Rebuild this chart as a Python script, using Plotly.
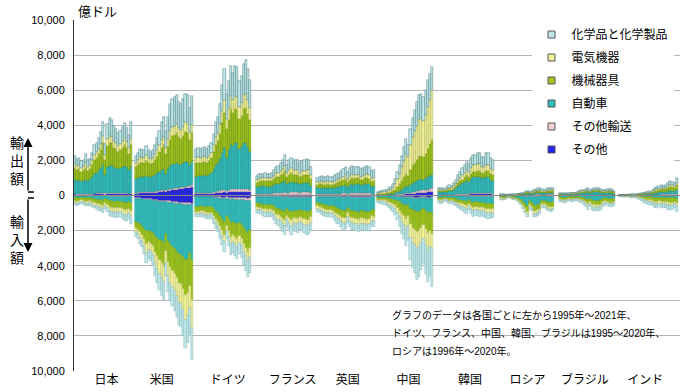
import plotly.graph_objects as go

# ---------------- data (億ドル) ----------------
countries = ["日本", "米国", "ドイツ", "フランス", "英国", "中国", "韓国", "ロシア", "ブラジル", "インド"]
start_years = [1995, 1995, 1995, 1995, 1995, 1995, 1995, 1996, 1995, 1995]
categories = ["その他", "その他輸送", "自動車", "機械器具", "電気機器", "化学品と化学製品"]
country_label_pos = [14.5, 40, 70.5, 100.5, 126, 154, 182.5, 209, 235.5, 263.5]

# Japan 1995-2021
jp_ex_other = [60,55,55,50,50,55,50,50,55,60,60,65,70,75,55,70,75,75,70,65,60,60,65,70,65,60,70]
jp_ex_trans = [40,35,35,35,35,40,35,40,45,50,55,60,70,80,60,70,70,70,60,60,55,55,60,60,55,50,55]
jp_ex_auto = [820,760,800,720,760,820,760,850,950,1100,1180,1300,1450,1650,1050,1500,1550,1620,1500,1450,1380,1450,1500,1560,1480,1320,1500]
jp_ex_mach = [650,610,620,560,580,680,560,570,700,820,860,930,1030,1200,850,1180,1300,1200,1100,1060,1000,1020,1100,1180,1080,960,1230]
jp_ex_elec = [250,240,240,220,240,280,230,240,270,300,310,320,330,370,280,380,400,390,360,350,330,340,360,380,350,320,380]
jp_ex_chem = [430,400,400,365,385,475,365,350,430,520,535,575,650,825,655,850,1005,945,860,815,725,725,815,900,820,740,965]
jp_im_other = [25,25,25,20,20,25,25,25,25,30,30,30,30,35,30,30,35,35,35,35,35,35,35,40,40,40,40]
jp_im_trans = [15,15,15,15,15,15,15,15,15,20,20,20,20,25,20,20,25,25,25,25,25,25,25,25,25,25,25]
jp_im_auto = [120,130,120,100,110,130,130,130,150,170,180,200,210,230,170,210,250,280,290,300,280,300,320,340,340,300,350]
jp_im_mach = [160,180,170,140,150,180,170,165,180,210,230,250,260,290,220,280,340,360,360,380,350,360,390,420,420,390,480]
jp_im_elec = [100,110,100,90,100,120,120,110,120,140,150,160,170,180,150,180,220,240,240,250,230,240,260,280,280,260,300]
jp_im_chem = [130,140,130,115,125,150,140,135,150,170,190,200,210,240,190,230,280,310,300,310,280,290,320,345,345,335,405]

# United States 1995-2021
us_ex_other = [100,110,120,125,130,140,140,145,150,160,170,190,210,230,220,250,280,300,320,340,350,360,380,400,420,430,470]
us_ex_trans = [50,50,55,55,55,60,60,60,60,65,70,75,80,85,75,85,90,95,95,100,100,100,105,110,110,95,105]
us_ex_auto = [790,830,900,880,880,920,860,850,880,950,1020,1100,1180,1200,950,1150,1300,1380,1400,1420,1350,1300,1350,1420,1400,1200,1330]
us_ex_mach = [660,730,800,790,780,850,780,730,750,850,950,1100,1250,1350,1100,1300,1500,1600,1620,1680,1550,1480,1580,1700,1650,1430,1650]
us_ex_elec = [250,280,310,300,300,340,300,280,290,320,360,400,440,460,380,440,490,510,520,530,500,490,510,530,520,450,470]
us_ex_chem = [400,450,465,450,455,490,460,435,470,555,680,835,1040,1175,975,1275,1540,1615,1645,1680,1500,1470,1575,1640,1600,1395,1625]
us_im_other = [150,160,170,180,190,210,210,220,230,250,270,290,300,310,290,320,340,360,370,390,400,410,420,440,450,450,460]
us_im_trans = [40,40,45,45,50,55,55,55,60,65,70,75,80,85,70,80,85,90,90,95,95,95,100,100,100,90,100]
us_im_auto = [1310,1360,1435,1525,1660,1785,1735,1805,1860,1985,2060,2185,2220,2305,1840,2200,2325,2500,2590,2715,2855,2895,2980,3110,3050,2760,3140]
us_im_mach = [350,380,450,490,590,730,650,680,750,930,1050,1150,1250,1310,970,1170,1310,1350,1430,1490,1630,1650,1810,2030,1930,1850,2250]
us_im_elec = [240,260,300,330,400,500,440,460,510,640,720,790,860,900,670,800,900,930,980,1020,1120,1130,1240,1400,1330,1270,1580]
us_im_chem = [260,300,350,380,460,570,510,530,590,730,830,910,990,1040,760,930,1040,1070,1140,1190,1300,1320,1450,1620,1540,1480,1870]

# Germany 1995-2020
de_ex_other = [80,80,80,80,85,85,90,95,110,130,140,150,170,190,160,180,200,200,210,210,200,200,210,220,210,200]
de_ex_trans = [60,60,60,60,60,60,65,70,80,90,100,110,130,150,120,140,160,160,160,160,150,150,160,170,160,140]
de_ex_auto = [930,950,950,980,1000,950,1000,1100,1300,1500,1600,1800,2100,2350,1850,2250,2550,2450,2600,2600,2300,2450,2600,2600,2400,2150]
de_ex_mach = [770,780,760,780,790,760,800,850,980,1180,1260,1450,1750,2000,1650,1750,2000,1900,1950,1900,1700,1750,1950,2000,1900,1800]
de_ex_elec = [290,300,290,300,300,300,310,330,380,450,480,550,650,750,600,680,760,720,760,750,680,700,780,800,760,720]
de_ex_chem = [520,530,510,500,515,495,535,555,650,850,920,1140,1500,1760,1420,1500,1730,1570,1720,1680,1470,1550,1800,1910,1770,1590]
de_im_other = [60,60,60,60,60,65,65,65,75,85,95,110,120,130,110,120,140,130,140,150,140,150,160,170,180,170]
de_im_trans = [40,40,40,40,40,45,45,45,50,60,65,75,85,95,80,90,100,95,100,105,100,105,115,125,130,120]
de_im_auto = [540,540,510,530,550,560,560,560,660,780,850,990,1120,1270,1000,1150,1350,1280,1350,1420,1320,1400,1560,1700,1850,1700]
de_im_mach = [280,280,270,280,290,300,300,300,360,430,480,560,650,750,570,670,790,760,800,830,770,820,910,990,1060,1010]
de_im_elec = [150,150,145,150,160,165,165,165,190,220,240,280,320,360,290,330,390,370,390,410,380,400,450,490,530,500]
de_im_chem = [180,180,175,190,200,215,215,215,265,325,370,435,505,595,450,540,630,615,670,685,640,675,755,825,900,900]

# France 1995-2020
fr_ex_other = [30,30,30,30,30,30,30,30,35,40,40,45,50,55,45,50,55,55,55,55,50,50,55,55,55,45]
fr_ex_trans = [60,65,70,70,70,70,70,75,85,95,100,110,120,140,110,120,130,125,130,130,120,125,130,140,140,100]
fr_ex_auto = [380,400,420,420,420,410,410,430,480,540,540,560,600,640,480,560,580,520,520,520,470,500,500,520,500,400]
fr_ex_mach = [260,280,290,290,290,290,290,300,330,380,390,430,480,540,400,460,500,460,470,470,420,440,460,480,470,380]
fr_ex_elec = [150,160,170,170,170,170,170,175,195,220,230,250,280,310,240,270,290,270,280,280,250,265,270,285,280,220]
fr_ex_chem = [250,265,270,270,280,280,280,290,325,375,400,455,520,615,475,540,595,570,595,595,540,570,585,620,605,505]
fr_im_other = [30,30,30,35,35,35,35,35,40,45,50,55,60,65,55,60,65,60,60,65,60,60,65,65,65,60]
fr_im_trans = [30,30,30,35,35,35,35,35,40,45,50,55,60,65,55,60,65,60,60,65,60,60,65,65,65,60]
fr_im_auto = [390,410,410,450,470,490,470,490,540,630,660,710,780,830,680,740,820,740,760,770,700,740,780,820,800,720]
fr_im_mach = [210,220,220,240,250,260,250,260,290,340,360,390,430,460,370,410,460,420,430,440,400,420,440,460,450,410]
fr_im_elec = [140,150,150,160,170,180,170,180,200,240,250,270,300,320,260,290,320,290,300,310,280,290,310,320,310,290]
fr_im_chem = [200,210,210,230,240,250,240,250,290,350,380,420,470,510,380,440,520,480,490,500,450,480,490,520,510,460]

# United Kingdom 1995-2021
uk_ex_other = [30,30,30,30,30,30,30,30,35,35,40,40,45,50,40,45,50,50,50,50,45,45,50,50,50,40,40]
uk_ex_trans = [40,40,45,45,45,45,45,45,50,55,60,65,70,75,60,70,80,75,80,80,75,75,80,85,85,65,65]
uk_ex_auto = [330,350,360,340,340,350,330,330,360,390,400,420,450,480,400,470,520,490,510,510,460,480,510,530,500,400,420]
uk_ex_mach = [200,210,220,210,210,220,210,210,230,250,260,280,300,320,270,310,340,320,330,330,300,310,330,340,330,280,290]
uk_ex_elec = [150,160,170,160,160,170,160,160,170,180,190,200,210,220,190,210,230,220,220,220,200,210,220,230,220,190,200]
uk_ex_chem = [250,260,275,265,265,285,275,275,305,340,350,395,425,455,390,445,480,445,460,460,420,430,460,465,465,425,435]
uk_im_other = [30,30,35,35,35,40,40,40,45,50,50,55,60,60,50,55,60,60,60,65,60,60,60,65,60,55,55]
uk_im_trans = [30,30,35,35,35,40,40,40,45,50,50,55,60,60,50,55,60,60,60,65,60,60,60,65,60,55,55]
uk_im_auto = [370,400,440,460,480,500,500,520,580,640,660,720,780,760,600,720,780,790,810,850,790,790,810,830,810,700,720]
uk_im_mach = [190,210,230,240,250,260,260,270,300,330,340,370,400,390,320,370,400,400,410,430,400,400,410,420,410,360,370]
uk_im_elec = [140,150,165,170,180,185,185,195,215,240,250,270,290,280,230,270,290,290,300,310,290,290,300,305,300,260,270]
uk_im_chem = [160,180,195,210,220,225,225,235,265,290,300,330,360,350,300,330,360,350,360,380,350,350,360,365,360,320,330]

# China 1995-2020
cn_ex_other = [10,10,10,10,10,15,15,20,25,35,40,50,55,60,60,80,100,110,120,140,150,150,160,180,200,220]
cn_ex_trans = [10,10,12,12,12,15,15,20,25,35,40,50,55,60,60,80,100,110,120,130,140,140,150,160,180,190]
cn_ex_auto = [20,25,30,30,35,45,50,65,100,140,180,240,330,400,350,450,510,550,580,620,630,620,660,720,740,760]
cn_ex_mach = [40,45,55,60,65,90,100,130,190,280,370,480,600,720,650,850,1000,1100,1200,1300,1320,1300,1400,1600,1800,1990]
cn_ex_elec = [50,60,75,80,90,130,150,200,310,450,600,780,950,1150,1050,1400,1600,1800,1950,2100,2150,2050,2200,2400,2500,2850]
cn_ex_chem = [70,80,98,108,118,155,170,215,300,410,520,650,760,810,730,940,1090,1230,1330,1410,1410,1340,1430,1540,1480,1290]
cn_im_other = [15,15,15,15,20,25,25,30,35,45,55,65,75,85,75,100,110,115,120,120,110,100,110,120,115,110]
cn_im_trans = [10,10,10,10,10,15,15,20,20,25,30,35,40,45,40,50,55,60,60,60,55,50,55,60,55,50]
cn_im_auto = [90,95,90,100,110,140,150,180,200,250,310,380,420,480,420,600,680,720,780,760,690,640,740,820,780,860]
cn_im_mach = [130,140,135,150,165,200,220,260,300,370,460,560,630,720,650,900,1000,1050,1120,1080,980,900,1020,1120,1060,1150]
cn_im_elec = [85,90,90,100,110,140,160,190,220,280,360,450,510,590,540,760,850,900,980,940,860,790,900,990,940,800]
cn_im_chem = [120,130,130,145,165,200,230,270,335,430,565,710,825,980,875,1290,1455,1555,1740,1690,1555,1420,1625,1790,1700,2230]

# Korea 1995-2020
kr_ex_other = [15,15,15,15,18,20,20,25,30,35,40,45,50,55,50,60,65,65,65,65,60,60,65,65,60,55]
kr_ex_trans = [15,15,15,15,18,20,20,25,30,35,40,45,50,55,50,60,65,65,65,65,60,60,65,65,60,55]
kr_ex_auto = [170,170,160,150,190,230,200,260,340,450,520,600,680,750,680,820,900,900,940,940,860,850,900,900,780,740]
kr_ex_mach = [70,70,65,60,75,90,80,100,130,170,200,220,250,280,270,300,320,320,330,330,310,310,340,350,310,310]
kr_ex_elec = [60,60,60,55,70,90,80,110,140,190,220,250,280,310,290,340,360,360,370,370,340,340,370,370,320,310]
kr_ex_chem = [80,90,85,85,109,150,120,170,210,290,340,390,430,480,460,540,590,590,630,630,580,580,660,670,590,580]
kr_im_other = [15,15,15,10,12,15,15,15,20,20,25,25,30,30,25,30,35,35,35,35,35,35,40,40,40,40]
kr_im_trans = [15,15,15,10,12,15,15,15,20,20,25,25,30,30,25,30,35,35,35,35,35,35,40,40,40,40]
kr_im_auto = [120,125,115,80,100,130,120,140,160,190,210,240,270,290,230,290,330,320,320,340,330,350,380,400,380,380]
kr_im_mach = [110,115,105,75,95,125,110,125,145,170,190,210,230,250,200,250,290,270,270,280,270,280,300,310,300,300]
kr_im_elec = [70,75,70,50,60,80,75,85,100,115,130,150,170,180,150,180,200,190,190,200,190,200,220,230,220,220]
kr_im_chem = [120,125,110,75,101,135,115,140,155,185,200,230,250,270,220,270,310,300,300,310,290,300,320,330,320,320]

# Russia 1996-2020
ru_ex_other = [5,5,5,5,5,5,5,5,8,10,12,15,20,15,20,25,30,30,30,25,25,30,35,35,30]
ru_ex_trans = [5,5,5,5,5,5,5,5,8,10,12,15,20,15,20,25,30,30,30,25,25,30,35,35,30]
ru_ex_auto = [15,15,13,12,15,15,17,20,24,28,35,45,65,40,55,75,85,90,95,75,70,85,95,95,90]
ru_ex_mach = [15,15,14,12,15,17,18,20,25,30,38,50,70,50,60,80,90,95,100,85,80,95,105,105,100]
ru_ex_elec = [5,5,5,5,5,6,6,8,10,12,15,20,25,20,25,30,35,35,40,35,30,35,40,40,40]
ru_ex_chem = [15,15,13,11,15,17,19,22,25,30,38,55,80,60,70,95,110,120,125,105,100,125,140,140,130]
ru_im_other = [10,10,8,6,6,8,10,12,15,20,25,30,40,25,30,40,40,40,35,25,25,30,30,30,30]
ru_im_trans = [10,10,8,6,6,8,10,12,15,20,25,30,40,25,30,40,40,40,35,25,25,30,30,30,30]
ru_im_auto = [80,90,70,45,50,70,85,110,150,210,300,420,520,270,350,480,500,450,400,240,240,300,330,350,320]
ru_im_mach = [70,80,65,45,48,65,75,90,120,150,200,260,320,210,240,320,330,310,290,200,200,240,250,260,250]
ru_im_elec = [40,45,35,25,25,35,40,50,60,75,100,130,160,110,120,160,170,160,150,110,110,130,130,140,140]
ru_im_chem = [40,45,34,23,25,34,40,46,60,75,100,130,170,110,130,160,170,150,140,100,100,120,130,140,130]

# Brazil 1995-2020
br_ex_other = [5,5,6,6,6,7,7,6,8,10,12,13,15,16,12,15,18,17,17,15,13,13,15,15,14,11]
br_ex_trans = [10,10,12,12,15,20,20,15,15,20,25,25,25,30,25,25,30,30,30,25,25,25,25,25,25,20]
br_ex_auto = [35,40,45,45,40,45,45,45,60,80,100,110,120,130,90,120,140,130,140,120,100,100,120,120,110,80]
br_ex_mach = [30,32,38,38,35,40,40,38,45,55,70,80,90,100,75,95,110,100,100,90,80,78,90,92,85,70]
br_ex_elec = [10,11,13,13,12,14,14,13,15,20,25,27,30,32,25,30,35,33,33,30,27,25,28,30,28,22]
br_ex_chem = [30,32,36,36,32,34,34,33,37,45,58,65,80,92,73,95,117,110,110,100,85,79,92,98,88,77]
br_im_other = [10,10,12,12,10,10,10,8,8,10,12,15,18,22,18,22,25,25,25,24,18,15,17,19,19,17]
br_im_trans = [10,10,12,12,10,10,10,8,8,10,12,15,18,22,18,22,25,25,25,24,18,15,17,19,19,17]
br_im_auto = [90,100,110,100,80,85,85,70,70,80,100,130,170,220,160,220,250,240,240,230,170,140,150,170,170,150]
br_im_mach = [110,120,130,125,100,105,110,90,90,105,125,155,190,230,180,230,260,250,260,240,190,160,175,200,200,180]
br_im_elec = [50,55,60,58,48,50,52,44,44,50,60,75,95,115,90,115,130,125,130,125,95,80,85,95,95,90]
br_im_chem = [80,85,96,93,82,90,93,80,80,95,111,130,159,191,154,191,210,215,220,207,159,140,156,177,177,166]

# India 1995-2021
in_ex_other = [2,2,3,3,3,3,3,4,5,6,8,10,12,14,12,18,22,25,28,30,30,32,38,42,40,38,50]
in_ex_trans = [2,2,3,3,3,3,3,4,5,6,8,10,12,14,12,18,22,25,28,30,30,32,38,42,40,38,50]
in_ex_auto = [8,9,10,10,11,12,12,14,18,24,30,38,45,52,48,75,100,115,130,145,140,150,180,200,195,170,240]
in_ex_mach = [10,12,13,13,15,16,16,19,23,30,38,45,53,60,55,85,110,120,135,150,145,155,185,205,200,185,250]
in_ex_elec = [5,6,6,6,7,8,8,9,11,14,18,22,26,30,28,40,52,58,64,72,70,75,90,100,98,90,120]
in_ex_chem = [13,14,15,15,16,18,18,20,23,30,38,45,52,60,55,84,114,127,135,153,145,156,189,211,207,199,270]
in_im_other = [3,3,3,4,4,4,5,5,6,8,10,12,15,17,16,19,22,21,20,21,21,22,24,26,25,21,28]
in_im_trans = [3,3,3,4,4,4,5,5,6,8,10,12,15,17,16,19,22,21,20,21,21,22,24,26,25,21,28]
in_im_auto = [10,12,12,13,14,15,16,18,22,30,40,50,60,70,65,78,90,88,85,88,88,90,100,106,102,88,115]
in_im_mach = [25,28,30,31,34,37,40,46,55,74,98,122,146,170,158,188,218,212,206,212,212,218,242,258,248,212,278]
in_im_elec = [15,17,18,19,21,23,25,29,35,46,62,77,92,108,100,120,138,134,130,134,134,138,154,164,158,134,176]
in_im_chem = [24,27,29,29,33,37,39,47,56,74,100,127,152,178,165,196,230,224,219,224,224,230,256,270,262,224,295]

y_tick_values = [-10000, -8000, -6000, -4000, -2000, 0, 2000, 4000, 6000, 8000, 10000]

# ---------------- assemble ----------------
exports = [
    [jp_ex_other, jp_ex_trans, jp_ex_auto, jp_ex_mach, jp_ex_elec, jp_ex_chem],
    [us_ex_other, us_ex_trans, us_ex_auto, us_ex_mach, us_ex_elec, us_ex_chem],
    [de_ex_other, de_ex_trans, de_ex_auto, de_ex_mach, de_ex_elec, de_ex_chem],
    [fr_ex_other, fr_ex_trans, fr_ex_auto, fr_ex_mach, fr_ex_elec, fr_ex_chem],
    [uk_ex_other, uk_ex_trans, uk_ex_auto, uk_ex_mach, uk_ex_elec, uk_ex_chem],
    [cn_ex_other, cn_ex_trans, cn_ex_auto, cn_ex_mach, cn_ex_elec, cn_ex_chem],
    [kr_ex_other, kr_ex_trans, kr_ex_auto, kr_ex_mach, kr_ex_elec, kr_ex_chem],
    [ru_ex_other, ru_ex_trans, ru_ex_auto, ru_ex_mach, ru_ex_elec, ru_ex_chem],
    [br_ex_other, br_ex_trans, br_ex_auto, br_ex_mach, br_ex_elec, br_ex_chem],
    [in_ex_other, in_ex_trans, in_ex_auto, in_ex_mach, in_ex_elec, in_ex_chem],
]
imports = [
    [jp_im_other, jp_im_trans, jp_im_auto, jp_im_mach, jp_im_elec, jp_im_chem],
    [us_im_other, us_im_trans, us_im_auto, us_im_mach, us_im_elec, us_im_chem],
    [de_im_other, de_im_trans, de_im_auto, de_im_mach, de_im_elec, de_im_chem],
    [fr_im_other, fr_im_trans, fr_im_auto, fr_im_mach, fr_im_elec, fr_im_chem],
    [uk_im_other, uk_im_trans, uk_im_auto, uk_im_mach, uk_im_elec, uk_im_chem],
    [cn_im_other, cn_im_trans, cn_im_auto, cn_im_mach, cn_im_elec, cn_im_chem],
    [kr_im_other, kr_im_trans, kr_im_auto, kr_im_mach, kr_im_elec, kr_im_chem],
    [ru_im_other, ru_im_trans, ru_im_auto, ru_im_mach, ru_im_elec, ru_im_chem],
    [br_im_other, br_im_trans, br_im_auto, br_im_mach, br_im_elec, br_im_chem],
    [in_im_other, in_im_trans, in_im_auto, in_im_mach, in_im_elec, in_im_chem],
]

colors = ["#2424f2", "#f2d0d0", "#2fbcbc", "#9cc41a", "#f2f296", "#bfe8ea"]
ex_lines = ["#1a1aa0", "#b09090", "#1e8a8a", "#6a8a0e", "#a8a860", "#4d7a7c"]
im_lines = ["#1a1aa0", "#b09090", "#249c9c", "#7c9e14", "#bebe78", "#86b4b6"]
SLOT = 28  # 27 possible years + 1 gap per country

def series(data, k, sign):
    xs, ys = [], []
    for c, per_cat in enumerate(data):
        vals = per_cat[k]
        off = start_years[c] - 1995
        for j, v in enumerate(vals):
            xs.append(c * SLOT + off + j)
            ys.append(sign * v)
    return xs, ys

FONT = "Liberation Sans, Arial, 'Noto Sans CJK JP', sans-serif"

fig = go.Figure()
for k, cat in enumerate(categories):
    xs, ys = series(exports, k, 1)
    fig.add_trace(go.Bar(x=xs, y=ys, name=cat, marker=dict(color=colors[k], line=dict(color=ex_lines[k], width=0.5)),
                         showlegend=False, hovertemplate=cat + " 輸出 %{y}<extra></extra>"))
    xs, ys = series(imports, k, -1)
    fig.add_trace(go.Bar(x=xs, y=ys, name=cat, marker=dict(color=colors[k], line=dict(color=im_lines[k], width=0.5)),
                         showlegend=False, hovertemplate=cat + " 輸入 %{y}<extra></extra>"))

# legend entries (top = 化学品と化学製品)
for k in range(len(categories) - 1, -1, -1):
    fig.add_trace(go.Scatter(x=[None], y=[None], mode="markers", name=categories[k],
                             legendgroup=categories[k],
                             marker=dict(symbol="square", size=7, color=colors[k], line=dict(color="#555", width=1))))

fig.update_layout(
    width=700, height=392,
    margin=dict(l=74, r=20, t=20, b=21, autoexpand=False),
    paper_bgcolor="white", plot_bgcolor="white",
    barmode="relative", bargap=0,
    font=dict(family=FONT, size=11, color="#000"),
    showlegend=True,
    legend=dict(x=0.755, y=1.0, xanchor="left", yanchor="top", bgcolor="white",
                font=dict(size=12, family=FONT), tracegroupgap=4, traceorder="grouped",
                itemclick=False),
    xaxis=dict(range=[-0.5, SLOT * len(countries) - 0.5], showgrid=False, zeroline=False,
               tickvals=country_label_pos, ticktext=countries,
               tickfont=dict(size=12), ticks="", showline=False, fixedrange=True),
    yaxis=dict(range=[-10000, 10000], tickvals=y_tick_values,
               ticktext=[f"{abs(v):,}" for v in y_tick_values],
               showgrid=True, gridcolor="#b4b4b4", gridwidth=1, zeroline=False,
               showline=True, linecolor="#333", linewidth=1, ticks="",
               ticklabelstandoff=6, tickfont=dict(size=11), fixedrange=True),
)

def px_x(p):
    return (p - 74) / 606.0

def px_y(p):
    return (371 - p) / 351.0

# zero line above bars
fig.add_shape(type="line", xref="paper", yref="y", x0=0, x1=1, y0=0, y1=0,
              line=dict(color="#8a8a8a", width=1))

annotations = [
    dict(text="億ドル", x=px_x(76), y=px_y(12), xref="paper", yref="paper", xanchor="left", yanchor="middle",
         showarrow=False, font=dict(size=13, family=FONT)),
    dict(text="輸<br>出<br>額", x=px_x(17), y=px_y(161), xref="paper", yref="paper", xanchor="center",
         yanchor="middle", showarrow=False, font=dict(size=14, family=FONT)),
    dict(text="輸<br>入<br>額", x=px_x(17), y=px_y(240), xref="paper", yref="paper", xanchor="center",
         yanchor="middle", showarrow=False, font=dict(size=14, family=FONT)),
    dict(text="", x=px_x(28), y=px_y(138), xref="paper", yref="paper", showarrow=True, ax=0, ay=54,
         arrowhead=2, arrowsize=1.2, arrowwidth=1.5, arrowcolor="#000"),
    dict(text="", x=px_x(28), y=px_y(252), xref="paper", yref="paper", showarrow=True, ax=0, ay=-54,
         arrowhead=2, arrowsize=1.2, arrowwidth=1.5, arrowcolor="#000"),
]
note_lines = ["グラフのデータは各国ごとに左から1995年～2021年、",
              "ドイツ、フランス、中国、韓国、ブラジルは1995～2020年、",
              "ロシアは1996年～2020年。"]
for i, line in enumerate(note_lines):
    annotations.append(dict(text=line, x=px_x(390), y=px_y(315 + 18 * i), xref="paper", yref="paper",
                            xanchor="left", yanchor="middle", showarrow=False,
                            font=dict(size=10, family=FONT)))
fig.update_layout(annotations=annotations)

# brackets at the arrow tails
fig.add_shape(type="line", xref="paper", yref="paper", x0=px_x(28), x1=px_x(34), y0=px_y(192), y1=px_y(192),
              line=dict(color="#000", width=1.5))
fig.add_shape(type="line", xref="paper", yref="paper", x0=px_x(28), x1=px_x(34), y0=px_y(198), y1=px_y(198),
              line=dict(color="#000", width=1.5))

fig.write_html("out.html", config={"displayModeBar": False},
               post_script="document.body.style.margin='0';document.body.style.overflow='hidden';")
